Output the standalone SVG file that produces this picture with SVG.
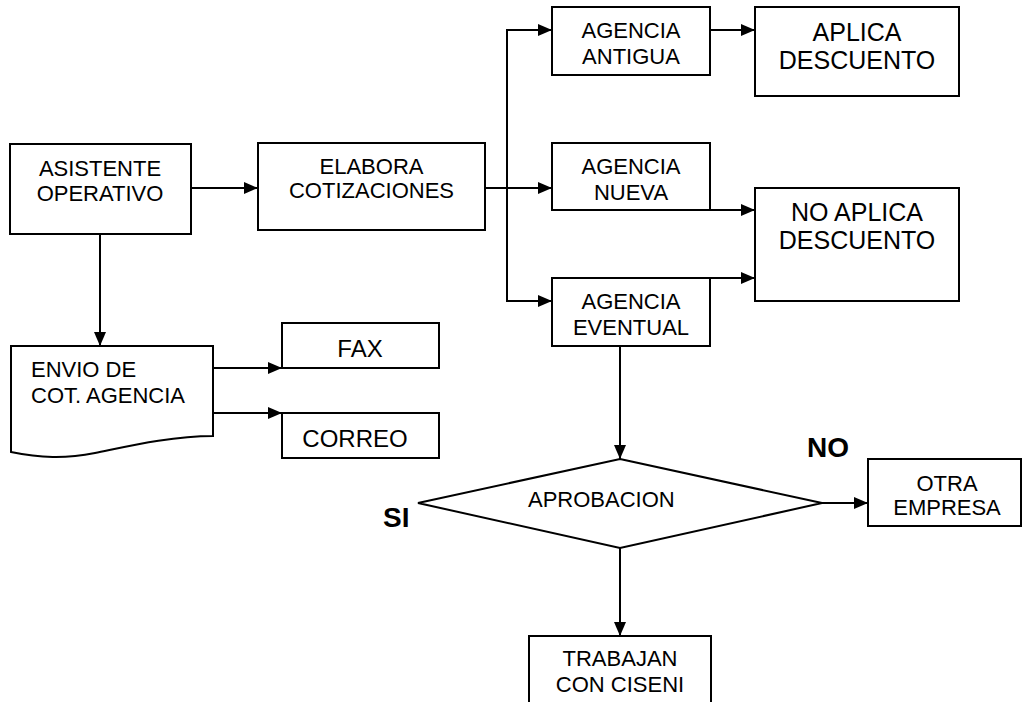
<svg xmlns="http://www.w3.org/2000/svg" width="1024" height="702" viewBox="0 0 1024 702">
<style>
.b{fill:#fff;stroke:#000;stroke-width:2}
.t{font-family:"Liberation Sans",Arial,sans-serif;font-size:22px;fill:#000;text-anchor:middle}
.t24{font-size:24px}
.t25{font-size:25px}
.l{text-anchor:start}
.bold{font-family:"Liberation Sans",Arial,sans-serif;font-weight:bold;font-size:28px;fill:#000}
.c{fill:none;stroke:#000;stroke-width:2}
</style>
<defs>
<marker id="ah" viewBox="0 0 14 12" refX="14" refY="6" markerWidth="14" markerHeight="12" markerUnits="userSpaceOnUse" orient="auto">
<path d="M0,0 L14,6 L0,12 Z" fill="#000"/>
</marker>
</defs>
<rect width="1024" height="702" fill="#fff"/>
<g id="connectors">
<line class="c" x1="191" y1="188" x2="258" y2="188" marker-end="url(#ah)"/>
<line class="c" x1="485" y1="188" x2="552" y2="188" marker-end="url(#ah)"/>
<polyline class="c" points="552,30 507,30 507,301 552,301" marker-end="url(#ah)"/>
<line class="c" x1="507" y1="30" x2="552" y2="30" marker-end="url(#ah)"/>
<line class="c" x1="710" y1="30" x2="755" y2="30" marker-end="url(#ah)"/>
<line class="c" x1="710" y1="210" x2="755" y2="210" marker-end="url(#ah)"/>
<line class="c" x1="710" y1="278" x2="755" y2="278" marker-end="url(#ah)"/>
<line class="c" x1="100" y1="234" x2="100" y2="346" marker-end="url(#ah)"/>
<line class="c" x1="213" y1="368" x2="282" y2="368" marker-end="url(#ah)"/>
<line class="c" x1="213" y1="413" x2="282" y2="413" marker-end="url(#ah)"/>
<line class="c" x1="620" y1="346" x2="620" y2="459" marker-end="url(#ah)"/>
<line class="c" x1="822" y1="503" x2="868" y2="503" marker-end="url(#ah)"/>
<line class="c" x1="620" y1="548" x2="620" y2="636" marker-end="url(#ah)"/>
</g>
<g id="asistente">
<rect class="b" x="10" y="144" width="181" height="90"/>
<text class="t" x="100" y="176">ASISTENTE</text>
<text class="t" x="100" y="201">OPERATIVO</text>
</g>
<g id="elabora">
<rect class="b" x="258" y="143" width="227" height="87"/>
<text class="t" x="371.5" y="174">ELABORA</text>
<text class="t" x="371.5" y="198">COTIZACIONES</text>
</g>
<g id="antigua">
<rect class="b" x="552" y="7" width="158" height="68"/>
<text class="t" x="631" y="38">AGENCIA</text>
<text class="t" x="631" y="64">ANTIGUA</text>
</g>
<g id="nueva">
<rect class="b" x="552" y="143" width="158" height="67"/>
<text class="t" x="631" y="174">AGENCIA</text>
<text class="t" x="631" y="200">NUEVA</text>
</g>
<g id="eventual">
<rect class="b" x="552" y="278" width="158" height="68"/>
<text class="t" x="631" y="309">AGENCIA</text>
<text class="t" x="631" y="335">EVENTUAL</text>
</g>
<g id="aplica">
<rect class="b" x="755" y="7" width="204" height="89"/>
<text class="t t25" x="857" y="41">APLICA</text>
<text class="t t25" x="857" y="69">DESCUENTO</text>
</g>
<g id="noaplica">
<rect class="b" x="755" y="188" width="204" height="113"/>
<text class="t t25" x="857" y="221">NO APLICA</text>
<text class="t t25" x="857" y="249">DESCUENTO</text>
</g>
<g id="envio">
<path class="b" d="M11,346 H213 V436 C170,436 125,447 95,453 C65,459 40,458 11,452 Z"/>
<text class="t l" x="31" y="377">ENVIO DE</text>
<text class="t l" x="31" y="403">COT. AGENCIA</text>
</g>
<g id="fax">
<rect class="b" x="282" y="323" width="157" height="45"/>
<text class="t t24" x="360" y="357">FAX</text>
</g>
<g id="correo">
<rect class="b" x="282" y="413" width="157" height="45"/>
<text class="t t24" x="355" y="447">CORREO</text>
</g>
<g id="aprobacion">
<polygon class="b" points="620,459 822,503 620,548 418,503"/>
<text class="t l" x="528" y="507">APROBACION</text>
</g>
<g id="otra">
<rect class="b" x="868" y="459" width="153" height="67"/>
<text class="t" x="947" y="491">OTRA</text>
<text class="t" x="947" y="515">EMPRESA</text>
</g>
<g id="trabajan">
<rect class="b" x="529" y="636" width="182" height="70"/>
<text class="t" x="620" y="666">TRABAJAN</text>
<text class="t" x="620" y="692">CON CISENI</text>
</g>
<g id="labels">
<text class="bold" x="383" y="527">SI</text>
<text class="bold" x="807" y="457">NO</text>
</g>
</svg>
